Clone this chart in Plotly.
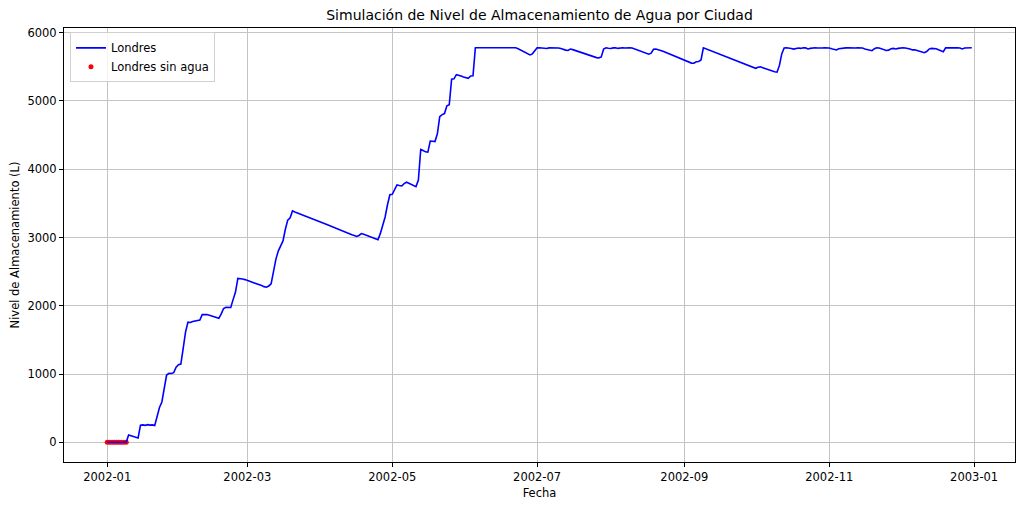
import pandas as pd
import plotly.graph_objects as go

# ---- data (daily storage level, litres, 2002-01-01 .. 2002-12-31) ----
start_date = "2002-01-01"
city = "Londres"
level_jan_feb = [
    0, 0, 0, 0, 0, 0, 0, 0, 0, 107,
    96, 85, 74, 63, 250, 255, 248, 258, 252, 255,
    245, 400, 510, 590, 820, 985, 1010, 1008, 1020, 1100,
    1135, 1145, 1380, 1620, 1760, 1755, 1770, 1775, 1780, 1790,
    1870, 1875, 1872, 1862, 1850, 1835, 1822, 1815, 1880, 1960,
    1978, 1975, 1975, 2090, 2200, 2400, 2400, 2392, 2383, 2372,
]
level_mar_apr = [
    2360, 2348, 2336, 2322, 2308, 2295, 2280, 2272, 2290, 2320,
    2500, 2680, 2800, 2880, 2950, 3120, 3255, 3290, 3390, 3375,
    3362, 3348, 3333, 3318, 3303, 3289, 3275, 3268, 3255, 3240,
    3226, 3211, 3197, 3182, 3168, 3153, 3138, 3124, 3109, 3095,
    3080, 3066, 3051, 3040, 3030, 3015, 3030, 3058, 3048, 3033,
    3018, 3003, 2988, 2973, 2966, 3060, 3180, 3300, 3480, 3626,
]
level_may_jun = [
    3632, 3700, 3770, 3762, 3755, 3790, 3810, 3795, 3778, 3760,
    3745, 3840, 4290, 4275, 4255, 4250, 4412, 4410, 4405, 4520,
    4770, 4800, 4815, 4930, 4945, 5320, 5325, 5385, 5380, 5365,
    5352, 5338, 5332, 5366, 5368, 5780, 5780, 5780, 5780, 5780,
    5780, 5780, 5780, 5780, 5770, 5780, 5770, 5780, 5780, 5780,
    5780, 5780, 5780, 5765, 5748, 5730, 5712, 5695, 5675, 5690,
]
level_jul_aug = [
    5740, 5778, 5780, 5775, 5780, 5768, 5778, 5780, 5780, 5780,
    5776, 5770, 5755, 5745, 5740, 5760, 5752, 5740, 5728, 5716,
    5705, 5695, 5683, 5670, 5658, 5645, 5635, 5632, 5645, 5760,
    5780, 5772, 5768, 5778, 5780, 5770, 5780, 5780, 5775, 5780,
    5780, 5775, 5762, 5748, 5735, 5722, 5708, 5695, 5685, 5700,
    5758, 5760, 5755, 5741, 5727, 5712, 5698, 5684, 5670, 5655,
]
level_sep_oct = [
    5641, 5627, 5612, 5598, 5584, 5570, 5555, 5552, 5575, 5578,
    5600, 5780, 5766, 5753, 5739, 5725, 5712, 5698, 5684, 5670,
    5657, 5643, 5629, 5616, 5602, 5588, 5574, 5561, 5547, 5533,
    5519, 5506, 5492, 5478, 5495, 5500, 5488, 5475, 5462, 5450,
    5438, 5428, 5422, 5520, 5690, 5775, 5780, 5778, 5768, 5760,
    5772, 5776, 5770, 5780, 5778, 5762, 5770, 5780, 5780, 5775,
]
level_nov_dec = [
    5770, 5776, 5780, 5780, 5775, 5765, 5752, 5747, 5765, 5772,
    5770, 5778, 5780, 5775, 5770, 5775, 5780, 5780, 5775, 5762,
    5752, 5740, 5737, 5765, 5780, 5775, 5762, 5750, 5740, 5745,
    5765, 5770, 5762, 5770, 5778, 5780, 5775, 5770, 5760, 5748,
    5750, 5740, 5732, 5720, 5707, 5725, 5760, 5770, 5772, 5765,
    5750, 5735, 5722, 5778, 5780, 5780, 5780, 5780, 5778, 5775,
    5762, 5775, 5780, 5778, 5780,
]
level = (level_jan_feb + level_mar_apr + level_may_jun +
         level_jul_aug + level_sep_oct + level_nov_dec)

y_ticks = [0, 1000, 2000, 3000, 4000, 5000, 6000]

dates = pd.date_range(start_date, periods=len(level), freq="D")
dry_dates = [d for d, v in zip(dates, level) if v <= 0]
dry_vals = [v for v in level if v <= 0]

FONT = "DejaVu Sans"

fig = go.Figure()
fig.add_trace(go.Scatter(
    x=dry_dates, y=dry_vals, mode="markers", name=f"{city} sin agua",
    marker=dict(color="#ff0000", size=5, line=dict(width=0)),
    legendrank=2,
))
fig.add_trace(go.Scatter(
    x=dates, y=level, mode="lines", name=city,
    line=dict(color="#0000ff", width=1.6),
    legendrank=1,
))

# matplotlib-like 5% data margins
span = dates[-1] - dates[0]
x_range = [dates[0] - span * 0.05, dates[-1] + span * 0.05]
ymin, ymax = min(level), max(level)
ypad = (ymax - ymin) * 0.05
y_range = [ymin - ypad, ymax + ypad]

axis_common = dict(
    showline=True, mirror=True, linecolor="black", linewidth=1,
    showgrid=True, gridcolor="#c4c4c4", gridwidth=1,
    ticks="outside", ticklen=4, tickcolor="black", tickwidth=1,
    tickfont=dict(family=FONT, size=11.5, color="black"),
    zeroline=False, automargin=False,
)

# the page body has an 8px margin, so the figure is sized to fit the 1024x508 window
fig.update_layout(
    width=1008, height=492,
    margin=dict(l=56, r=1, t=20, b=38),
    paper_bgcolor="white", plot_bgcolor="white",
    font=dict(family=FONT, color="black"),
    title=dict(text="Simulación de Nivel de Almacenamiento de Agua por Ciudad",
               xref="paper", x=0.5, xanchor="center",
               yref="container", y=0.986, yanchor="middle",
               font=dict(family=FONT, size=14, color="black")),
    xaxis=dict(
        range=x_range, type="date",
        tick0="2002-01-01", dtick="M2", tickformat="%Y-%m",
        title=dict(text="Fecha", font=dict(family=FONT, size=11.5), standoff=6),
        **axis_common,
    ),
    yaxis=dict(
        range=y_range, tickvals=y_ticks,
        title=dict(text="Nivel de Almacenamiento (L)", font=dict(family=FONT, size=11.5), standoff=7),
        **axis_common,
    ),
    legend=dict(
        x=0.0063, y=0.99, xanchor="left", yanchor="top",
        bgcolor="rgba(255,255,255,0.8)", bordercolor="#d0d0d0", borderwidth=1,
        font=dict(family=FONT, size=11.5, color="black"),
        tracegroupgap=0, itemwidth=30,
    ),
    showlegend=True,
)

fig.write_html("out.html")
